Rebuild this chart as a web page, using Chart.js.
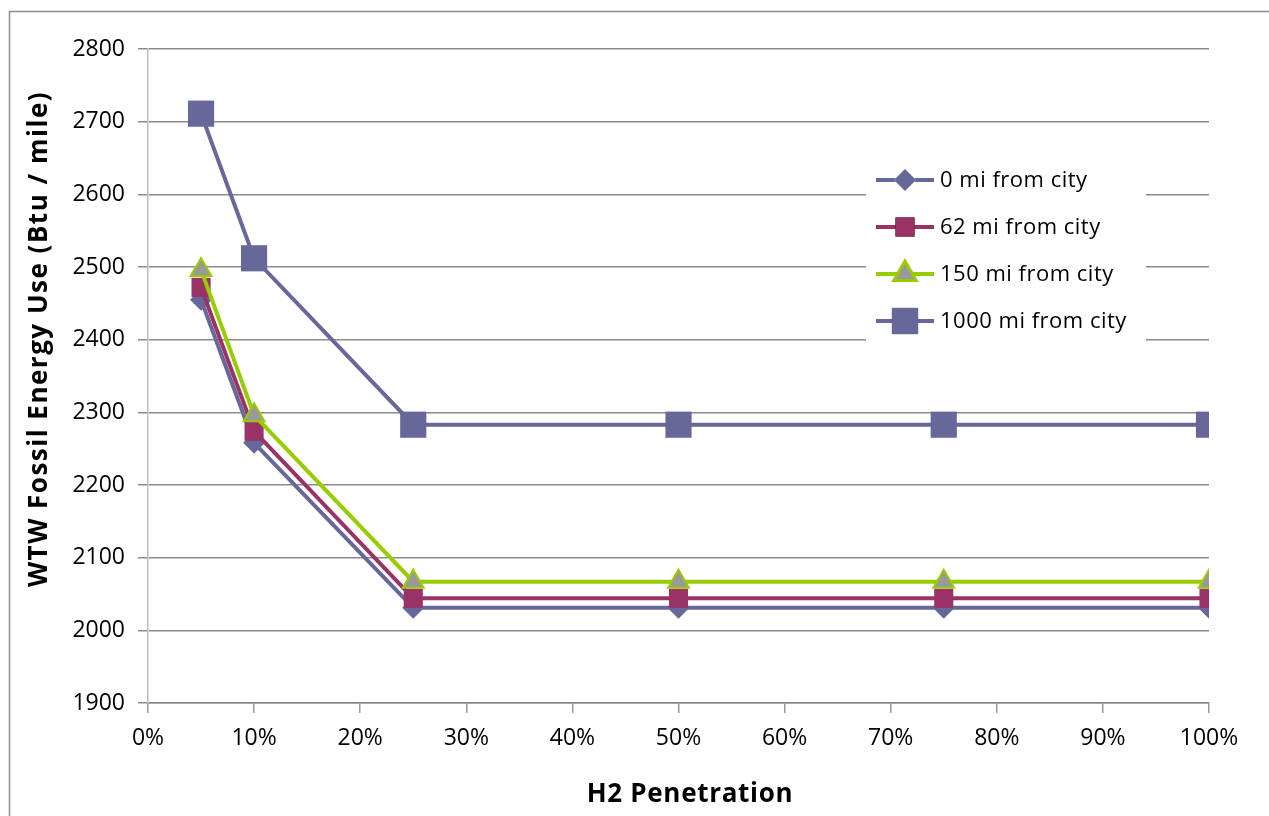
<!DOCTYPE html>
<html>
<head>
<meta charset="utf-8">
<script src="https://cdn.jsdelivr.net/npm/chart.js@4.4.1/dist/chart.umd.min.js"></script>
<style>
  html, body { margin: 0; padding: 0; background: #fff; }
  #wrap { width: 1269px; height: 816px; position: relative; }
</style>
</head>
<body>
<div id="wrap"><canvas id="chart"></canvas></div>
<script>
// H2 penetration (%) at each data point
const penetration = [5, 10, 25, 50, 75, 100];

// WTW fossil energy use (Btu / mile)
const mi0 = [2455, 2258, 2031, 2031, 2031, 2031];
const mi62 = [2472, 2274, 2044, 2044, 2044, 2044];
const mi150 = [2496, 2296, 2067, 2067, 2067, 2067];
const mi1000 = [2711, 2512, 2283, 2283, 2283, 2283];

const seriesLabels = ['0 mi from city', '62 mi from city', '150 mi from city', '1000 mi from city'];
const xTitle = 'H2 Penetration';
const yTitle = 'WTW Fossil Energy Use (Btu / mile)';

const FONT = '"Open Sans", Lato, sans-serif';

function toPoints(values) {
    return values.map((v, i) => ({ x: penetration[i], y: v }));
}

// background + outer chart border (only top/left visible in the frame)
const frame = {
    id: 'frame',
    beforeDraw(chart) {
        const ctx = chart.ctx;
        ctx.save();
        ctx.fillStyle = '#fff';
        ctx.fillRect(0, 0, chart.width, chart.height);
        ctx.strokeStyle = '#8c8c8c';
        ctx.lineWidth = 1.5;
        ctx.strokeRect(9.5, 11.5, chart.width + 20, chart.height + 20);
        ctx.restore();
    }
};

// axis titles placed like the original
const axisTitles = {
    id: 'axisTitles',
    afterDraw(chart) {
        const ctx = chart.ctx;
        ctx.save();
        ctx.fillStyle = '#000';
        ctx.font = 'bold 26px ' + FONT;
        ctx.textAlign = 'center';
        ctx.textBaseline = 'middle';
        ctx.letterSpacing = '0.7px';
        ctx.fillText(xTitle, 690, 795);
        ctx.letterSpacing = '1.5px';
        ctx.translate(40, 339);
        ctx.rotate(-Math.PI / 2);
        ctx.fillText(yTitle, 0, 0);
        ctx.restore();
    }
};

// legend with line + marker, inside the plot
const lineLegend = {
    id: 'lineLegend',
    afterDatasetsDraw(chart) {
        const ctx = chart.ctx;
        ctx.save();
        ctx.fillStyle = '#fff';
        ctx.fillRect(866, 158, 280, 184);
        const rowY = [180, 227, 274, 321];
        chart.data.datasets.forEach((ds, i) => {
            const y = rowY[i];
            ctx.strokeStyle = ds.borderColor;
            ctx.lineWidth = ds.borderWidth;
            ctx.beginPath();
            ctx.moveTo(876, y);
            ctx.lineTo(934, y);
            ctx.stroke();
            Chart.helpers.drawPoint(ctx, {
                pointStyle: ds.pointStyle,
                radius: ds.pointRadius,
                rotation: 0,
                borderWidth: ds.pointBorderWidth
            }, 905, y);
            ctx.fillStyle = ds.pointBackgroundColor;
            ctx.strokeStyle = ds.pointBorderColor;
            ctx.lineWidth = ds.pointBorderWidth;
            ctx.fill();
            if (ds.pointBorderWidth > 0) ctx.stroke();
            ctx.fillStyle = '#000';
            ctx.font = '22px ' + FONT;
            ctx.letterSpacing = '0.5px';
            ctx.textAlign = 'left';
            ctx.textBaseline = 'middle';
            ctx.fillText(ds.label, 940, y + 1);
        });
        ctx.restore();
    }
};

const ctx = document.getElementById('chart').getContext('2d');
new Chart(ctx, {
    type: 'line',
    data: {
        datasets: [
            {
                label: seriesLabels[0],
                data: toPoints(mi0),
                borderColor: '#67679a',
                borderWidth: 4,
                pointStyle: 'rectRot',
                pointRadius: 11,
                pointBackgroundColor: '#67679a',
                pointBorderColor: '#67679a',
                pointBorderWidth: 0,
                order: 3
            },
            {
                label: seriesLabels[1],
                data: toPoints(mi62),
                borderColor: '#993366',
                borderWidth: 4,
                pointStyle: 'rect',
                pointRadius: 13.5,
                pointBackgroundColor: '#993366',
                pointBorderColor: '#993366',
                pointBorderWidth: 0,
                order: 2
            },
            {
                label: seriesLabels[2],
                data: toPoints(mi150),
                borderColor: '#99cc00',
                borderWidth: 4,
                pointStyle: 'triangle',
                pointRadius: 12,
                pointBackgroundColor: '#999999',
                pointBorderColor: '#99cc00',
                pointBorderWidth: 2,
                order: 1
            },
            {
                label: seriesLabels[3],
                data: toPoints(mi1000),
                borderColor: '#67679a',
                borderWidth: 4,
                pointStyle: 'rect',
                pointRadius: 18.5,
                pointBackgroundColor: '#67679a',
                pointBorderColor: '#67679a',
                pointBorderWidth: 0,
                order: 0
            }
        ]
    },
    options: {
        responsive: true,
        maintainAspectRatio: false,
        animation: false,
        layout: { padding: { left: 0, right: 60, top: 49, bottom: 0 } },
        plugins: {
            legend: { display: false },
            tooltip: { enabled: false }
        },
        elements: { line: { tension: 0 } },
        scales: {
            x: {
                type: 'linear',
                min: 0,
                max: 100,
                afterFit(scale) { scale.height = 113; },
                ticks: {
                    stepSize: 10,
                    padding: 12,
                    color: '#000',
                    font: { family: FONT, size: 23 },
                    maxRotation: 0,
                    callback: v => v + '%'
                },
                grid: {
                    drawOnChartArea: false,
                    drawTicks: true,
                    tickLength: 10,
                    color: '#9a9a9a',
                    lineWidth: 1.5
                },
                border: { display: true, color: '#8a8a8a', width: 1.5 }
            },
            y: {
                min: 1900,
                max: 2800,
                afterFit(scale) { scale.width = 148; },
                ticks: {
                    stepSize: 100,
                    padding: 13,
                    color: '#000',
                    font: { family: FONT, size: 23 },
                    callback: v => String(v)
                },
                grid: {
                    color: '#8a8a8a',
                    lineWidth: 1.5,
                    tickLength: 10
                },
                border: { display: true, color: '#bdbdbd', width: 1.5 }
            }
        }
    },
    plugins: [frame, axisTitles, lineLegend]
});
</script>
</body>
</html>
